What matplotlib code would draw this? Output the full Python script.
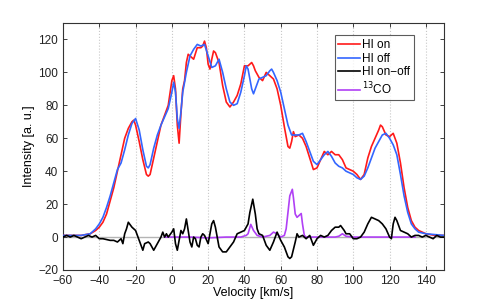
import matplotlib
matplotlib.use("Agg")
import matplotlib.pyplot as plt
import numpy as np

plt.rcParams['font.family'] = ['Liberation Sans', 'DejaVu Sans']

# HI on (red)
v_on = [-60,-55,-50,-45,-42,-40,-38,-36,-34,-32,-30,-28,-26,-24,-22,-21,-20,-18,-16,-14,-13,-12,-10,-8,-6,-4,-2,
        0,1,2,3,4,5,6,7,8,9,10,12,14,16,17,18,19,20,21,22,23,24,26,28,30,32,34,36,38,40,42,44,45,46,48,50,52,54,56,58,
        60,62,64,65,66,67,68,70,72,74,76,78,80,82,84,86,88,90,92,94,96,98,100,102,104,106,108,110,112,114,115,116,118,
        120,122,124,126,128,130,132,134,136,138,140,145,150]
hi_on = [1,1,1,2,4,6,9,14,22,30,40,50,60,66,70,71,68,58,47,38,37,38,48,58,68,74,80,
         95,98,90,68,57,75,90,95,106,111,110,108,115,115,116,119,115,105,102,108,113,112,106,92,82,79,82,86,93,104,104,106,104,101,97,95,100,98,96,90,
         80,67,55,54,58,64,61,62,60,55,48,41,42,47,52,50,52,50,50,47,42,41,40,38,35,38,48,55,60,65,68,67,62,
         61,63,57,45,30,18,10,6,4,3,2,1,1]

# HI off (blue)
v_off = [-60,-50,-45,-42,-40,-38,-36,-34,-32,-30,-28,-26,-24,-22,-20,-18,-16,-14,-13,-12,-10,-8,-6,-4,-2,
         0,1,2,3,4,5,6,8,10,12,14,16,18,20,22,24,26,28,30,32,34,36,38,40,41,42,44,45,46,48,50,52,54,55,56,58,
         60,62,64,66,68,70,72,74,76,78,80,82,84,86,88,90,92,94,96,100,102,104,106,108,110,112,114,116,118,
         120,122,124,126,128,130,132,134,136,140,150]
hi_off = [1,1,2,5,8,12,18,25,33,41,45,53,62,69,72,65,53,43,42,44,54,62,68,73,78,
          88,94,88,72,66,76,88,100,110,114,117,116,117,110,103,104,108,100,90,82,80,81,88,98,104,102,90,87,90,96,97,98,101,102,100,95,
          88,78,68,62,62,62,63,58,52,46,44,47,50,52,49,45,43,42,40,38,36,35,37,42,48,54,58,62,63,
          60,56,50,38,25,15,8,5,3,2,1]

# HI on-off (black)
v_diff = [-60,-58,-56,-54,-52,-50,-48,-46,-44,-42,-40,-38,-36,-34,-32,-30,-28,-27,-26,-25,-24,-22,-20,-18,-16,-15,-13,-12,-10,
          -8,-6,-5,-4,-3,-2,0,1,2,3,4,5,6,7,8,9,10,11,12,13,14,15,16,17,18,20,22,23,24,25,26,28,30,32,34,36,38,40,42,43,44.6,46,47,
          48,50,52,54,56,58,60,62,64,65,66,68,69,70,72,74,76,78,80,82,84,86,88,90,92,93,95,96,98,100,102,104,106,108,110,112,114,116,118,
          120,121,122,123,124,126,128,130,132,134,136,138,140,142,144,146,148,150]
hi_diff = [0,1,0,1,0,-1,0,1,0,1,-1,-1,-1.5,-2,-2,-3,-1,-4,2,5,9,6,4,-2,-8,-4,-3,-4,-8,
           -4,0,3,0,2,0,3,5,-4,-8,-2,4,2,5,11,4,-3,-6,0,-1,-5,-6,0,2,1,-4,8,10,6,0,-6,-9,-9,-6,-3,2,3,4,8,15,23,14,5,
           2,1,-5,-8,-3,3,-2,-6,-12,-13,-12,-3,2,0,1,-1,1,-5,-1,1,0,1,4,6,6,7,4,2,2,-1,-1,0,3,8,12,11,10,8,5,
           0,-1,8,12,10,4,3,2,0,1,1,0,1,0,-1,1,0,0]

# 13CO (purple)
v_co = [-4,0,10,20,30,38,41,42,43.5,45,47,50,54,56,58,60,62,63,64,65,66.4,67,68,69,70,71.3,72,73,74,80,90,92,94,96,100,110,120,134]
co = [0,0,0,-0.5,0,0,1,2,7.7,4,1,0,1,3,2,0,1,5,15,25,29,24,14,12,13,14.3,8,1,0,0,0,0.5,2,0.5,0,0,0,0]

fig = plt.figure(figsize=(4.91, 3.04), dpi=100)
ax = fig.add_axes([63/491, 1-270/304, 381/491, 247/304])

ax.axhline(0, color='#b4b4b4', lw=1.0, zorder=1)
ax.plot(v_on, hi_on, color='#ff1a1a', lw=1.2, label='HI on', zorder=3)
ax.plot(v_off, hi_off, color='#3366ff', lw=1.2, label='HI off', zorder=4)
ax.plot(v_diff, hi_diff, color='black', lw=1.2, label='HI on\u2212off', zorder=5)
ax.plot(v_co, co, color='#b040f5', lw=1.2, label='$^{13}$CO', zorder=2)

ax.set_xlim(-60, 150)
ax.set_ylim(-20, 130)
ax.set_xticks(np.arange(-60, 151, 20))
ax.set_yticks(np.arange(-20, 121, 20))
ax.xaxis.grid(True, linestyle=':', color='#c8c8c8', lw=0.8)
ax.tick_params(direction='in', top=True, right=True, labelsize=8.5, length=3, width=0.6, colors='#222222')
for s in ax.spines.values():
    s.set_linewidth(0.8)
    s.set_color('#333333')
ax.set_xlabel('Velocity [km/s]', fontsize=9, labelpad=0)
ax.set_ylabel('Intensity [a. u.]', fontsize=9, labelpad=2)

leg = ax.legend(loc='upper right', bbox_to_anchor=(0.92, 0.95), fontsize=8.5, frameon=True, fancybox=False,
                edgecolor='#333333', handlelength=1.8, handletextpad=0.2, borderpad=0.3, labelspacing=0.15,
                borderaxespad=0)
leg.get_frame().set_linewidth(0.8)

fig.savefig('out.png', dpi=100)
